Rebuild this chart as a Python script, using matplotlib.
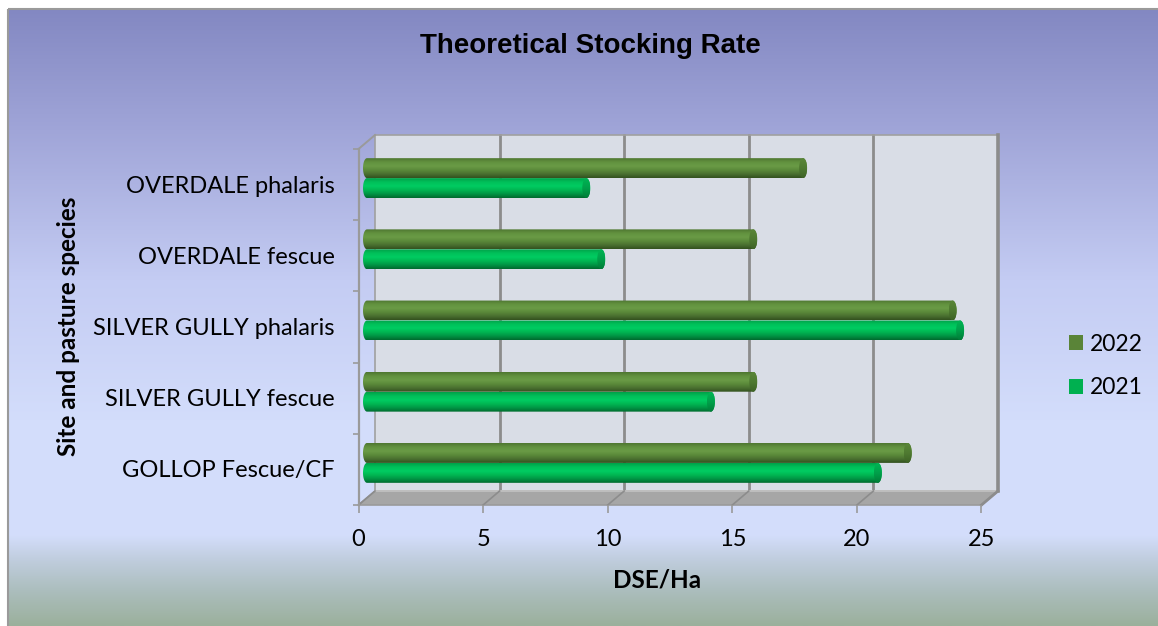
import numpy as np
import matplotlib
matplotlib.use("Agg")
import matplotlib.pyplot as plt
from matplotlib import transforms as mtransforms
from matplotlib import markers as mmarkers
from matplotlib.patches import Polygon, Rectangle, Ellipse, Patch
from matplotlib.colors import to_rgb

# ---- data -------------------------------------------------------------
categories = ["GOLLOP Fescue/CF", "SILVER GULLY fescue", "SILVER GULLY phalaris",
              "OVERDALE fescue", "OVERDALE phalaris"]
dse_2022 = [21.7, 15.5, 23.5, 15.5, 17.5]
dse_2021 = [20.5, 13.8, 23.8, 9.4, 8.8]
series_labels = ["2022", "2021"]
x_ticks = [0, 5, 10, 15, 20, 25]

title = "Theoretical Stocking Rate"
x_label = "DSE/Ha"
y_label = "Site and pasture species"

# ---- figure ----------------------------------------------------------
W, H, DPI = 1158, 626, 100
fig = plt.figure(figsize=(W / DPI, H / DPI), dpi=DPI)
fig.patch.set_facecolor("white")

LABEL_FONT = "Lato"
TITLE_FONT = "Liberation Sans"

# chart-area background gradient
bg = fig.add_axes([0, 0, 1, 1], zorder=-10)
bg.set_xlim(0, W)
bg.set_ylim(H, 0)
bg.axis("off")
stops = [(9, (131, 136, 194)), (130, (160, 165, 216)), (280, (196, 204, 243)),
         (420, (211, 221, 251)), (535, (212, 222, 252)), (560, (192, 205, 222)),
         (590, (172, 190, 190)), (626, (155, 176, 156))]
rows = np.arange(9, 627)
sy = [s[0] for s in stops]
grad = np.stack([np.interp(rows, sy, [s[1][k] for s in stops]) for k in range(3)], axis=-1) / 255.0
bg.imshow(grad[:, None, :], extent=(7.5, W, H, 9), origin="upper", aspect="auto",
          interpolation="bilinear")
bg.add_patch(Rectangle((7.5, 9), W, H, fill=False, edgecolor="#9a9a9a", lw=1.5))
bg.set_xlim(0, W)
bg.set_ylim(H, 0)

# ---- plot planes ------------------------------------------------------
ax = fig.add_axes([367 / W, (H - 498.5) / H, 623 / W, 356 / H])
ax.set_xlim(0, 25)
ax.set_ylim(-0.5, len(categories) - 0.5)
ax.set_autoscale_on(False)
ax.axis("off")

back = mtransforms.offset_copy(ax.transData, fig=fig, x=8.0, y=7.5, units="dots")
front = mtransforms.offset_copy(ax.transData, fig=fig, x=-8.5, y=-6.5, units="dots")
to_data = ax.transData.inverted()


def via(tr, pts):
    return to_data.transform(tr.transform(np.asarray(pts, dtype=float)))


y_lo, y_hi = -0.5, len(categories) - 0.5
GRID = "#8c8c8c"
EDGE = "#9a9a9a"

# back wall and its gridlines
ax.add_patch(Rectangle((0, y_lo), 25, y_hi - y_lo, transform=back,
                       facecolor="#d9dde6", edgecolor="none", zorder=1, clip_on=False))
for t in x_ticks[1:-1]:
    ax.plot([t, t], [y_lo, y_hi], transform=back, color=GRID, lw=2.0, zorder=2, clip_on=False)
ax.plot([0, 25], [y_hi, y_hi], transform=back, color="#a0a0a0", lw=1.2, zorder=2, clip_on=False)
ax.plot([0, 0], [y_lo, y_hi], transform=back, color="#a0a0a0", lw=1.2, zorder=2, clip_on=False)
ax.plot([25, 25], [y_lo, y_hi], transform=back, color=GRID, lw=2.6, zorder=3, clip_on=False)

# floor
floor_pts = np.vstack([via(back, [[0, y_lo], [25, y_lo]]),
                       via(front, [[25, y_lo], [0, y_lo]])])
ax.add_patch(Polygon(floor_pts, closed=True, facecolor="#a6a6a6",
                     edgecolor=EDGE, lw=1.2, zorder=2, clip_on=False))
bl = via(back, [[0, y_lo], [25, y_lo]])
ax.plot(bl[:, 0], bl[:, 1], color="#c4c4c4", lw=1.2, zorder=2, clip_on=False)
for t in x_ticks:
    seg = np.vstack([via(back, [[t, y_lo]]), via(front, [[t, y_lo]])])
    ax.plot(seg[:, 0], seg[:, 1], color=GRID, lw=2.0 if t == 25 else 1.2, zorder=2,
            clip_on=False)

# left (category) axis line and ticks on the front plane
ax.plot([0, 0], [y_lo, y_hi], transform=front, color=EDGE, lw=1.6, zorder=3, clip_on=False)
diag = np.vstack([via(front, [[0, y_hi]]), via(back, [[0, y_hi]])])
ax.plot(diag[:, 0], diag[:, 1], color=EDGE, lw=1.4, zorder=3, clip_on=False)
bounds = np.arange(len(categories) + 1) - 0.5
ax.plot(np.zeros_like(bounds), bounds, transform=front, linestyle="none",
        marker=mmarkers.TICKLEFT, markersize=4, markeredgewidth=1.2,
        color=EDGE, zorder=3, clip_on=False)
ax.plot(x_ticks, [y_lo] * len(x_ticks), transform=front, linestyle="none",
        marker=mmarkers.TICKDOWN, markersize=6, markeredgewidth=1.2,
        color=EDGE, zorder=3, clip_on=False)

cat_tr = mtransforms.offset_copy(front, fig=fig, x=-24, y=-1.5, units="dots")
for i, name in enumerate(categories):
    ax.text(0, i, name, transform=cat_tr, ha="right", va="center",
            fontsize=17, family=LABEL_FONT, color="black")
tick_tr = mtransforms.offset_copy(front, fig=fig, x=0, y=-34, units="dots")
for t in x_ticks:
    ax.text(t, y_lo, f"{t}", transform=tick_tr, ha="center", va="center",
            fontsize=17, family=LABEL_FONT, color="black")

# ---- cylinder bars ----------------------------------------------------
BAR_H = 0.28
CAP_A = 4.0 / 24.92  # half-width of the elliptical end caps, in data units

body_2022 = ["#4e7630", "#62923f", "#6a9b46", "#5b8a3a", "#4a7030", "#33511f"]
body_2021 = ["#00a048", "#00c05a", "#00cc62", "#00b652", "#009444", "#006a2e"]
cap_2022 = ["#5a8638", "#4f7a31", "#3e6226"]
cap_2021 = ["#00b454", "#00a04a", "#007d38"]
face_2022 = "#5a8438"
face_2021 = "#00b050"


def vertical_gradient(colors, n=80):
    pos = np.linspace(0, 1, len(colors))
    rgb = np.array([to_rgb(c) for c in colors])
    t = np.linspace(0, 1, n)
    return np.stack([np.interp(t, pos, rgb[:, k]) for k in range(3)], axis=-1)[:, None, :]


def draw_cylinder(rect, body, cap):
    x0, yb = rect.get_x(), rect.get_y()
    w, h = rect.get_width(), rect.get_height()
    yc = yb + h / 2
    th_r = np.linspace(-np.pi / 2, np.pi / 2, 40)
    th_l = np.linspace(np.pi / 2, 3 * np.pi / 2, 40)
    xs = np.concatenate([x0 + w + CAP_A * np.cos(th_r), x0 + CAP_A * np.cos(th_l)])
    ys = np.concatenate([yc + h / 2 * np.sin(th_r), yc + h / 2 * np.sin(th_l)])
    outline = Polygon(np.column_stack([xs, ys]), closed=True, facecolor="none",
                      edgecolor="none", zorder=4, clip_on=False)
    ax.add_patch(outline)
    im = ax.imshow(vertical_gradient(body), extent=(x0 - CAP_A, x0 + w + CAP_A, yb, yb + h),
                   origin="upper", aspect="auto", interpolation="bilinear", zorder=4)
    im.set_clip_path(outline)
    im.set_clip_box(fig.bbox)
    end = Ellipse((x0 + w, yc), 2 * CAP_A, h, facecolor="none", edgecolor="none",
                  zorder=5, clip_on=False)
    ax.add_patch(end)
    im2 = ax.imshow(vertical_gradient(cap), extent=(x0 + w - CAP_A, x0 + w + CAP_A, yb, yb + h),
                    origin="upper", aspect="auto", interpolation="bilinear", zorder=5)
    im2.set_clip_path(end)
    im2.set_clip_box(fig.bbox)


ypos = np.arange(len(categories))
bars_2022 = ax.barh(ypos + BAR_H / 2, dse_2022, height=BAR_H, visible=False)
bars_2021 = ax.barh(ypos - BAR_H / 2, dse_2021, height=BAR_H, visible=False)
for r in bars_2022:
    draw_cylinder(r, body_2022, cap_2022)
for r in bars_2021:
    draw_cylinder(r, body_2021, cap_2021)

ax.set_xlim(0, 25)
ax.set_ylim(y_lo, y_hi)

# ---- titles and legend -------------------------------------------------
fig.text(590 / W, 1 - 46 / H, title, ha="center", va="center", fontsize=20,
         fontweight="bold", family=TITLE_FONT)
fig.text(657 / W, 1 - 580 / H, x_label, ha="center", va="center", fontsize=17.5,
         fontweight="bold", family=LABEL_FONT)
fig.text(68 / W, 1 - 326 / H, y_label, ha="center", va="center", rotation=90,
         fontsize=17.5, fontweight="bold", family=LABEL_FONT)

handles = [Patch(facecolor=face_2022, edgecolor="none"),
           Patch(facecolor=face_2021, edgecolor="none")]
fig.legend(handles, series_labels, loc="center left",
           bbox_to_anchor=(1069 / W, 1 - 366 / H), frameon=False,
           borderpad=0, borderaxespad=0, handlelength=0.62, handleheight=0.62,
           handletextpad=0.3, labelspacing=1.0,
           prop={"family": LABEL_FONT, "size": 16.5})

fig.savefig("out.png", dpi=DPI)
